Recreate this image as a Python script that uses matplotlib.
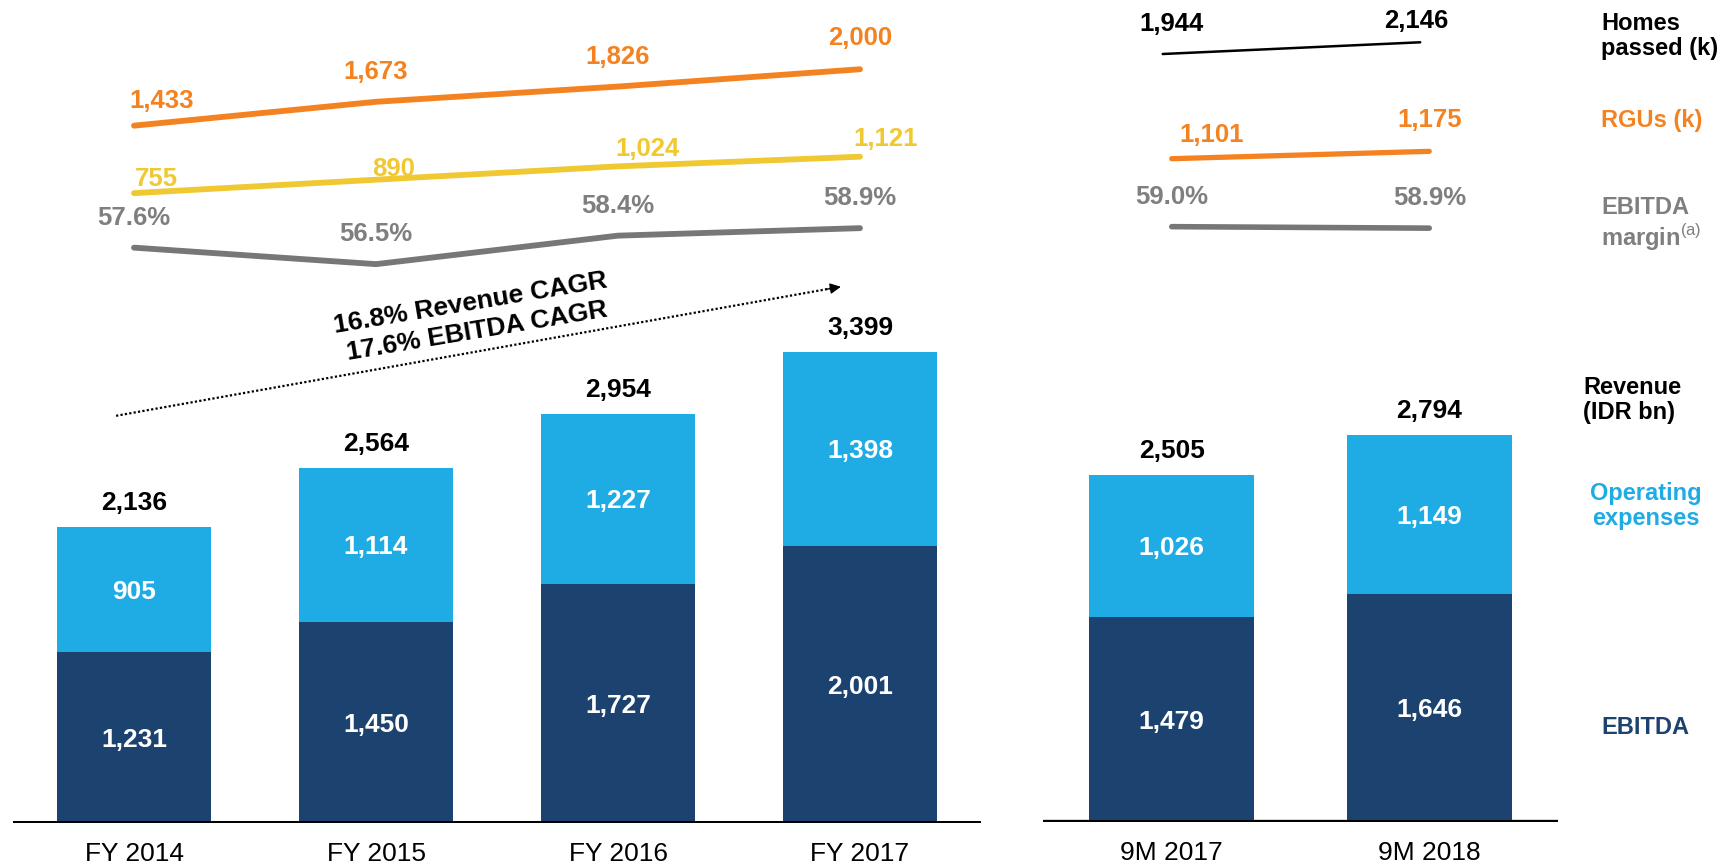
import matplotlib
matplotlib.use('Agg')
import matplotlib.pyplot as plt

plt.rcParams['font.family'] = ['Liberation Sans', 'DejaVu Sans']
plt.rcParams['mathtext.fontset'] = 'custom'
plt.rcParams['mathtext.rm'] = 'Liberation Sans'
plt.rcParams['mathtext.bf'] = 'Liberation Sans:bold'

# ---------------- data ----------------
fy_labels = ['FY 2014', 'FY 2015', 'FY 2016', 'FY 2017']
fy_ebitda = [1231, 1450, 1727, 2001]
fy_opex = [905, 1114, 1227, 1398]
fy_revenue = [2136, 2564, 2954, 3399]
fy_homes = [1433, 1673, 1826, 2000]
fy_rgus = [755, 890, 1024, 1121]
fy_margin = [57.6, 56.5, 58.4, 58.9]

nm_labels = ['9M 2017', '9M 2018']
nm_ebitda = [1479, 1646]
nm_opex = [1026, 1149]
nm_revenue = [2505, 2794]
nm_homes = [1944, 2146]
nm_rgus = [1101, 1175]
nm_margin = [59.0, 58.9]

cagr_texts = ['16.8% Revenue CAGR', '17.6% EBITDA CAGR']

# ---------------- style ----------------
W, H, DPI = 1735, 867, 100
NAVY = '#1C4270'
LBLUE = '#1FABE3'
ORANGE = '#F58220'
YELLOW = '#F0C832'
GRAY = '#777777'
GRAY_TXT = '#7F7F7F'
FS = 19
FS_LINE = 18.5
HALF_CAP = 9.4  # px, half cap-height of the value labels
PX_PER_BN = 0.1386
BAR_W = 0.64

fig = plt.figure(figsize=(W / DPI, H / DPI), dpi=DPI)


def bar_axes(left_px, width_px, base_px, n):
    ax = fig.add_axes([left_px / W, (H - base_px) / H, width_px / W, base_px / H])
    ax.set_xlim(-0.5, n - 0.5)
    ax.set_ylim(0, base_px / PX_PER_BN)
    ax.patch.set_alpha(0)
    for s in ax.spines.values():
        s.set_visible(False)
    ax.set_yticks([])
    ax.tick_params(axis='x', length=0, pad=14, labelsize=FS)
    return ax


def line_axes(ax, lo, hi):
    t = ax.twinx()
    t.set_ylim(lo, hi)
    t.axis('off')
    return t


def draw_bars(ax, labels, ebitda, opex, revenue, outline=False):
    x = list(range(len(labels)))
    ax.bar(x, ebitda, width=BAR_W, color=NAVY, zorder=2)
    ax.bar(x, opex, width=BAR_W, bottom=ebitda, color=LBLUE, zorder=2)
    if outline:
        ax.axhline(0, color='#444444', lw=3.9, zorder=3)
    ax.axhline(0, color='black', lw=2.9, zorder=3)
    ax.set_xticks(x, labels)
    for i in x:
        ax.annotate(f'{ebitda[i]:,}', (i, ebitda[i] / 2), xytext=(0, -HALF_CAP),
                    textcoords='offset pixels', ha='center', va='baseline',
                    color='white', fontsize=FS, fontweight='bold', zorder=4)
        ax.annotate(f'{opex[i]:,}', (i, ebitda[i] + opex[i] / 2), xytext=(0, -HALF_CAP),
                    textcoords='offset pixels', ha='center', va='baseline',
                    color='white', fontsize=FS, fontweight='bold', zorder=4)
        ax.annotate(f'{revenue[i]:,}', (i, revenue[i]), xytext=(0, 17),
                    textcoords='offset pixels', ha='center', va='baseline',
                    color='black', fontsize=FS, fontweight='bold', zorder=4)


def draw_line(t, xs, vals, color, lw, fmt, txtcolor, offsets):
    t.plot(xs, vals, color=color, lw=lw, solid_capstyle='round', zorder=2)
    for xi, v, (dx, dy) in zip(xs, vals, offsets):
        t.annotate(fmt(v), (xi, v), xytext=(dx, dy - HALF_CAP), textcoords='offset pixels',
                   ha='center', va='baseline', color=txtcolor, fontsize=FS_LINE,
                   fontweight='bold')


fmt_k = lambda v: f'{v:,}'
fmt_p = lambda v: f'{v:.1f}%'

# ---------------- left panel (FY) ----------------
BASE_L = 823
axl = bar_axes(13, 968, BASE_L, len(fy_labels))
draw_bars(axl, fy_labels, fy_ebitda, fy_opex, fy_revenue)

xl = list(range(len(fy_labels)))
t_hr = line_axes(axl, 2696 - BASE_L / 0.0995, 2696)
draw_line(t_hr, xl, fy_homes, ORANGE, 4.2, fmt_k, ORANGE,
          [(28, 27), (0, 32.5), (0, 32), (0, 33.5)])
draw_line(t_hr, xl, fy_rgus, YELLOW, 4.2, fmt_k, YELLOW,
          [(22, 16.5), (18, 13.5), (29, 20), (26, 20)])
t_m = line_axes(axl, 74.11 - BASE_L / 15.0, 74.11)
draw_line(t_m, xl, fy_margin, GRAY, 4.2, fmt_p, GRAY_TXT,
          [(0, 32.5), (0, 32.5), (0, 32), (0, 33)])

# CAGR arrow and text
axl.plot([-0.074, 2.90], [2938, 3863], ls=(0, (1, 1)), lw=1.6, color='black',
         zorder=3, solid_capstyle='butt', dash_capstyle='butt')
axl.annotate('', xy=(2.921, 3869), xytext=(2.86, 3851),
             arrowprops=dict(arrowstyle='-|>', color='black', lw=1,
                             mutation_scale=16, shrinkA=0, shrinkB=0))
axl.text(1.391, 3750, cagr_texts[0], rotation=9.5, rotation_mode='anchor',
         ha='center', va='center', fontsize=FS, fontweight='bold')
axl.text(1.417, 3544, cagr_texts[1], rotation=9.5, rotation_mode='anchor',
         ha='center', va='center', fontsize=FS, fontweight='bold')

# ---------------- right panel (9M) ----------------
BASE_R = 822
axr = bar_axes(1043, 515, BASE_R, len(nm_labels))
draw_bars(axr, nm_labels, nm_ebitda, nm_opex, nm_revenue, outline=True)

xr = list(range(len(nm_labels)))
t_h2 = line_axes(axr, 2875 - BASE_R / 0.058, 2875)
draw_line(t_h2, [x - 0.035 for x in xr], nm_homes, 'black', 1.8, fmt_k, 'black',
          [(9, 32), (-4, 24)])
t_r2 = line_axes(axr, 2696 - BASE_R / 0.0995, 2696)
draw_line(t_r2, xr, nm_rgus, ORANGE, 3.8, fmt_k, ORANGE,
          [(40, 26.5), (0, 34)])
t_m2 = line_axes(axr, 74.11 - BASE_R / 15.0, 74.11)
draw_line(t_m2, xr, nm_margin, GRAY, 4.0, fmt_p, GRAY_TXT,
          [(0, 32.5), (0, 32.5)])

# ---------------- side legend labels ----------------
FS_SIDE = 17
fig.text(1601 / W, 1 - 36 / H, 'Homes\npassed (k)', ha='left', va='center',
         fontsize=FS_SIDE, fontweight='bold', color='black', linespacing=1.15)
fig.text(1601 / W, 1 - 120.5 / H, 'RGUs (k)', ha='left', va='center',
         fontsize=FS_SIDE, fontweight='bold', color=ORANGE)
fig.text(1601 / W, 1 - 224.5 / H, 'EBITDA\nmargin$^{\\rm (a)}$', ha='left', va='center',
         fontsize=FS_SIDE, fontweight='bold', color=GRAY_TXT, linespacing=1.15)
fig.text(1583 / W, 1 - 400 / H, 'Revenue\n(IDR bn)', ha='left', va='center',
         fontsize=FS_SIDE, fontweight='bold', color='black', linespacing=1.15)
fig.text(1646 / W, 1 - 506 / H, 'Operating\nexpenses', ha='center', va='center',
         multialignment='center', fontsize=FS_SIDE, fontweight='bold', color=LBLUE,
         linespacing=1.15)
fig.text(1645 / W, 1 - 728 / H, 'EBITDA', ha='center', va='center',
         fontsize=FS_SIDE, fontweight='bold', color=NAVY)

fig.savefig('out.png', dpi=DPI)
